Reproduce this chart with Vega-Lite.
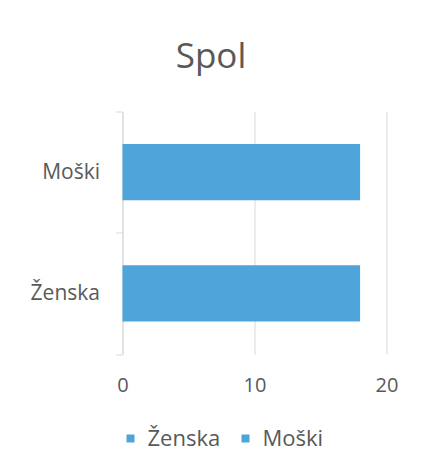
{
  "$schema": "https://vega.github.io/schema/vega-lite/v6.json",
  "autosize": "none",
  "width": 264,
  "height": 242.5,
  "padding": {"left": 122.5, "top": 111.5, "right": 39.5, "bottom": 116},
  "background": "white",
  "config": {
    "view": {"stroke": null},
    "font": "Open Sans"
  },
  "title": {
    "text": "Spol",
    "fontSize": 35,
    "fontWeight": "normal",
    "font": "Open Sans",
    "color": "#595959",
    "anchor": "middle",
    "baseline": "alphabetic",
    "offset": 43.5,
    "dy": 46,
    "dx": -43.5
  },
  "data": {
    "values": [
      {"spol": "Moški", "n": 18},
      {"spol": "Ženska", "n": 18}
    ]
  },
  "mark": {"type": "bar", "height": {"band": 0.463}},
  "encoding": {
    "y": {
      "field": "spol",
      "type": "nominal",
      "sort": ["Moški", "Ženska"],
      "scale": {"paddingInner": 0, "paddingOuter": 0},
      "axis": {
        "title": null,
        "domainColor": "#D9D9D9",
        "domainWidth": 1,
        "tickColor": "#D9D9D9",
        "tickWidth": 1,
        "tickSize": 7,
        "tickBand": "extent",
        "labelPadding": 16,
        "labelFontSize": 21,
        "labelColor": "#595959",
        "labelFont": "Open Sans",
        "grid": false
      }
    },
    "x": {
      "field": "n",
      "type": "quantitative",
      "scale": {"domain": [0, 20], "nice": false},
      "axis": {
        "title": null,
        "values": [0, 10, 20],
        "domain": false,
        "ticks": false,
        "tickSize": 0,
        "labelPadding": 21,
        "labelFontSize": 20,
        "labelColor": "#595959",
        "labelFont": "Open Sans",
        "grid": true,
        "gridColor": "#D9D9D9",
        "gridWidth": 1,
        "labelFlush": false
      }
    },
    "color": {
      "field": "spol",
      "type": "nominal",
      "scale": {"domain": ["Ženska", "Moški"], "range": ["#4EA5DA", "#4EA5DA"]},
      "legend": {
        "title": null,
        "orient": "none",
        "direction": "horizontal",
        "legendX": -3,
        "legendY": 316,
        "symbolType": "square",
        "symbolSize": 64,
        "symbolStrokeWidth": 0,
        "labelFontSize": 22,
        "labelColor": "#595959",
        "labelFont": "Open Sans",
        "labelOffset": 6,
        "columnPadding": 14,
        "padding": 0
      }
    }
  }
}
